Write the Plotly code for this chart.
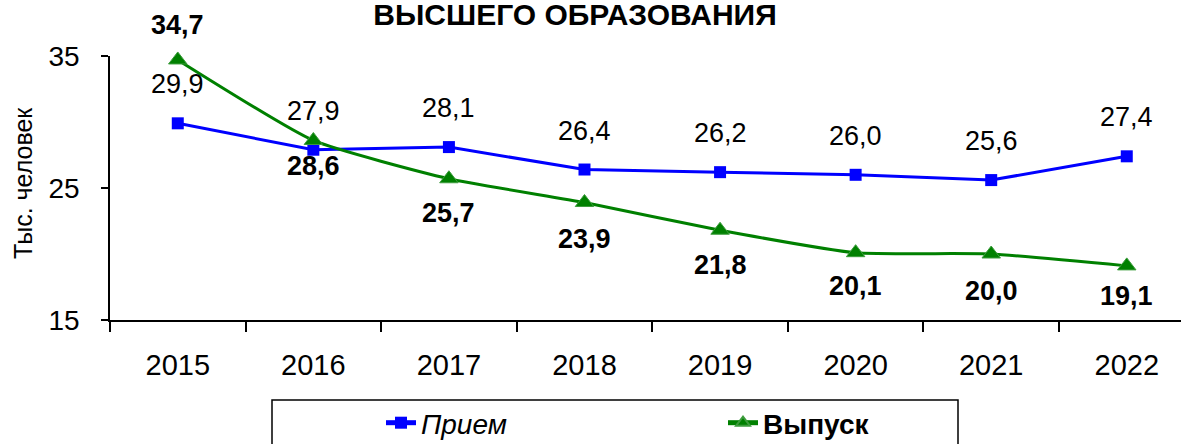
import plotly.graph_objects as go

years = ["2015", "2016", "2017", "2018", "2019", "2020", "2021", "2022"]
priem = [29.9, 27.9, 28.1, 26.4, 26.2, 26.0, 25.6, 27.4]
vypusk = [34.7, 28.6, 25.7, 23.9, 21.8, 20.1, 20.0, 19.1]
y_ticks = [15, 25, 35]

FONT = "Liberation Sans, Arial, sans-serif"
W, H = 1181, 444
L, R, T, B = 110, 0, 56, 124
PW, PH = W - L - R, H - T - B


def px_x(p):
    return (p - L) / PW


def px_y(p):
    return (H - B - p) / PH


def fmt(v):
    return f"{v:.1f}".replace(".", ",")


fig = go.Figure()
fig.add_trace(go.Scatter(
    x=years, y=priem, name="<i>Прием</i>", mode="lines+markers",
    line=dict(color="#0000FF", width=3),
    marker=dict(symbol="square", size=12, color="#0000FF"),
    cliponaxis=False,
))
fig.add_trace(go.Scatter(
    x=years, y=vypusk, name="<b>Выпуск</b>", mode="lines+markers",
    line=dict(color="#008000", width=3, shape="spline", smoothing=0.5),
    marker=dict(symbol="triangle-up", size=16, color="#008000",
                line=dict(color="#3c9c3c", width=1)),
    cliponaxis=False,
))

# data labels (offsets are styling only)
blue_shift = 39
green_shift = [35, -26, -34, -36, -35, -33, -37, -30]
annotations = []
for i, v in enumerate(priem):
    annotations.append(dict(x=i, y=v, xref="x", yref="y", text=fmt(v),
                            showarrow=False, yshift=blue_shift,
                            font=dict(family=FONT, size=27, color="black")))
for i, (v, s) in enumerate(zip(vypusk, green_shift)):
    annotations.append(dict(x=i, y=v, xref="x", yref="y", text=f"<b>{fmt(v)}</b>",
                            showarrow=False, yshift=s,
                            font=dict(family=FONT, size=27, color="black")))
annotations.append(dict(x=px_x(23), y=px_y(183), xref="paper", yref="paper",
                        xanchor="center", yanchor="middle",
                        text="Тыс. человек", textangle=-90, showarrow=False,
                        font=dict(family=FONT, size=25, color="black")))

fig.update_layout(
    width=W, height=H,
    margin=dict(l=L, r=R, t=T, b=B, pad=0, autoexpand=False),
    paper_bgcolor="white", plot_bgcolor="white",
    font=dict(family=FONT, color="black"),
    title=dict(text="<b>ВЫСШЕГО ОБРАЗОВАНИЯ</b>", x=575 / W, xanchor="center",
               y=1 - 4 / H, yanchor="top", xref="container", yref="container",
               pad=dict(t=0, b=0, l=0, r=0),
               font=dict(family=FONT, size=30, color="black")),
    showlegend=True,
    legend=dict(orientation="h", x=px_x(381), xanchor="left", y=px_y(398), yanchor="top",
                borderwidth=0, bgcolor="rgba(0,0,0,0)", entrywidth=297,
                font=dict(family=FONT, size=28, color="black"),
                itemsizing="constant"),
    annotations=annotations,
    shapes=[dict(type="rect", xref="paper", yref="paper",
                 x0=px_x(272), x1=px_x(958), y0=px_y(400), y1=px_y(460),
                 line=dict(color="black", width=1.5), fillcolor="rgba(0,0,0,0)")],
)
fig.update_xaxes(
    type="category", range=[-0.5, 7.4], showgrid=False,
    showline=True, linecolor="black", linewidth=1.5,
    ticks="outside", tickson="boundaries", ticklen=10, tickwidth=1.5, tickcolor="black",
    tickfont=dict(family=FONT, size=29, color="black"), ticklabelstandoff=18,
)
fig.update_yaxes(
    range=[15, 35], tickvals=y_ticks, showgrid=False, zeroline=False,
    showline=True, linecolor="black", linewidth=1.5,
    ticks="outside", ticklen=7, tickwidth=1.5, tickcolor="black",
    tickfont=dict(family=FONT, size=28, color="black"), ticklabelstandoff=16,
)

fig.write_html("out.html", config={"displayModeBar": False},
               post_script="document.body.style.margin='0';document.body.style.overflow='hidden';")
